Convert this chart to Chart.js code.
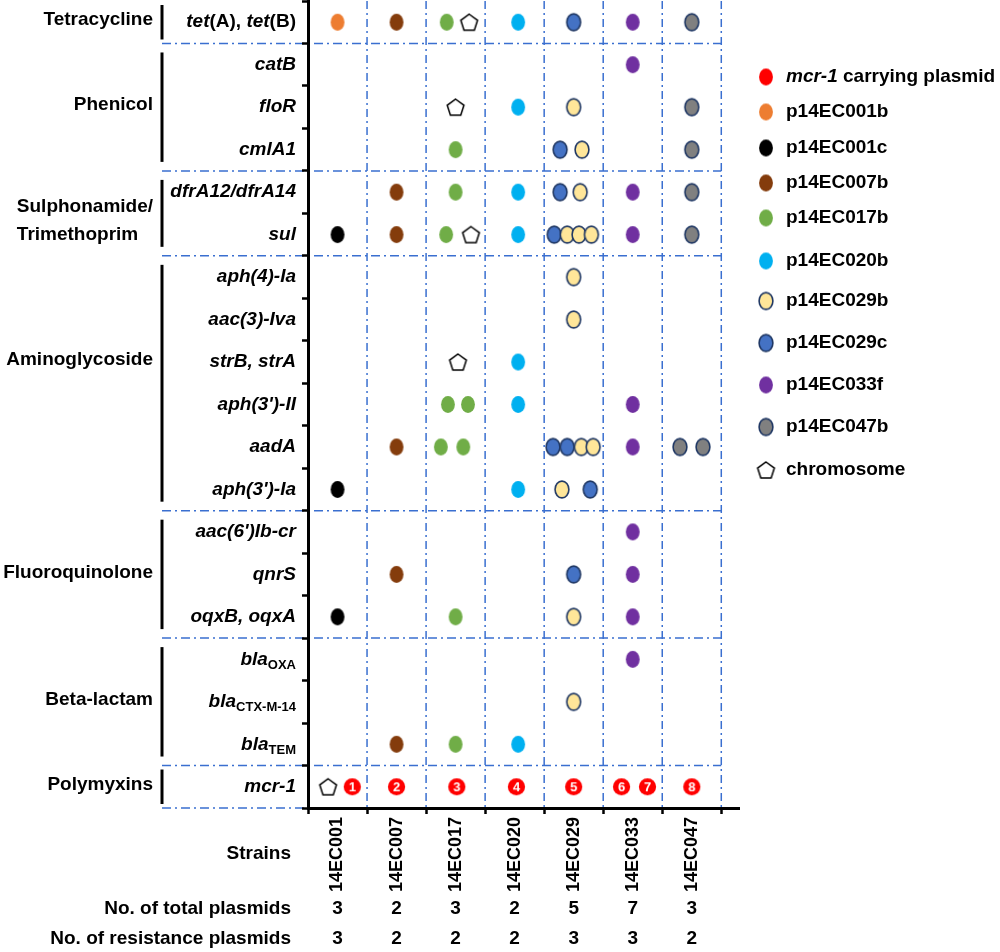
<!DOCTYPE html>
<html>
<head>
<meta charset="utf-8">
<title>Resistance genes per plasmid</title>
<script src="https://cdn.jsdelivr.net/npm/chart.js@4.4.0/dist/chart.umd.min.js"></script>
<style>
  html, body { margin: 0; padding: 0; background: #fff; }
</style>
</head>
<body>
<canvas id="myChart" width="1000" height="952"></canvas>
<script>
// strains (columns) and genes (rows)
const strains = ["14EC001", "14EC007", "14EC017", "14EC020", "14EC029", "14EC033", "14EC047"];
const genes = [
  "tet(A), tet(B)", "catB", "floR", "cmlA1", "dfrA12/dfrA14", "sul",
  "aph(4)-Ia", "aac(3)-Iva", "strB, strA", "aph(3')-II", "aadA", "aph(3')-Ia",
  "aac(6')Ib-cr", "qnrS", "oqxB, oqxA", "blaOXA", "blaCTX-M-14", "blaTEM", "mcr-1",
];
const drugClasses = ["Tetracycline", "Phenicol", "Sulphonamide/\nTrimethoprim", "Aminoglycoside", "Fluoroquinolone", "Beta-lactam", "Polymyxins"];
const genesPerClass = [1, 3, 2, 6, 3, 3, 1];
const totalPlasmids = [3, 2, 3, 2, 5, 7, 3];
const resistancePlasmids = [3, 2, 2, 2, 3, 3, 2];

// hits: [strain, gene, shift inside the cell (in columns)]
const mcr1Plasmid = [
  ["14EC001", "mcr-1", 0.25], ["14EC007", "mcr-1", 0], ["14EC017", "mcr-1", 0.02], ["14EC020", "mcr-1", 0.03],
  ["14EC029", "mcr-1", 0], ["14EC033", "mcr-1", -0.19], ["14EC033", "mcr-1", 0.25], ["14EC047", "mcr-1", 0],
];
const mcr1Numbers = ["1", "2", "3", "4", "5", "6", "7", "8"];
const p14EC001b = [["14EC001", "tet(A), tet(B)", 0]];
const p14EC001c = [["14EC001", "sul", 0], ["14EC001", "aph(3')-Ia", 0], ["14EC001", "oqxB, oqxA", 0]];
const p14EC007b = [
  ["14EC007", "tet(A), tet(B)", 0], ["14EC007", "dfrA12/dfrA14", 0], ["14EC007", "sul", 0],
  ["14EC007", "aadA", 0], ["14EC007", "qnrS", 0], ["14EC007", "blaTEM", 0],
];
const p14EC017b = [
  ["14EC017", "tet(A), tet(B)", -0.15], ["14EC017", "cmlA1", 0], ["14EC017", "dfrA12/dfrA14", 0],
  ["14EC017", "sul", -0.16], ["14EC017", "aph(3')-II", -0.13], ["14EC017", "aph(3')-II", 0.21],
  ["14EC017", "aadA", -0.25], ["14EC017", "aadA", 0.13], ["14EC017", "oqxB, oqxA", 0], ["14EC017", "blaTEM", 0],
];
const p14EC020b = [
  ["14EC020", "tet(A), tet(B)", 0.06], ["14EC020", "floR", 0.06], ["14EC020", "dfrA12/dfrA14", 0.06],
  ["14EC020", "sul", 0.06], ["14EC020", "strB, strA", 0.06], ["14EC020", "aph(3')-II", 0.06],
  ["14EC020", "aph(3')-Ia", 0.06], ["14EC020", "blaTEM", 0.06],
];
const p14EC029b = [
  ["14EC029", "floR", 0], ["14EC029", "cmlA1", 0.14], ["14EC029", "dfrA12/dfrA14", 0.11],
  ["14EC029", "sul", -0.11], ["14EC029", "sul", 0.09], ["14EC029", "sul", 0.3],
  ["14EC029", "aph(4)-Ia", 0], ["14EC029", "aac(3)-Iva", 0], ["14EC029", "aadA", 0.13], ["14EC029", "aadA", 0.33],
  ["14EC029", "aph(3')-Ia", -0.2], ["14EC029", "oqxB, oqxA", 0], ["14EC029", "blaCTX-M-14", 0],
];
const p14EC029c = [
  ["14EC029", "tet(A), tet(B)", 0], ["14EC029", "cmlA1", -0.23], ["14EC029", "dfrA12/dfrA14", -0.23],
  ["14EC029", "sul", -0.33], ["14EC029", "aadA", -0.35], ["14EC029", "aadA", -0.11],
  ["14EC029", "aph(3')-Ia", 0.28], ["14EC029", "qnrS", 0],
];
const p14EC033f = [
  ["14EC033", "tet(A), tet(B)", 0], ["14EC033", "catB", 0], ["14EC033", "dfrA12/dfrA14", 0], ["14EC033", "sul", 0],
  ["14EC033", "aph(3')-II", 0], ["14EC033", "aadA", 0], ["14EC033", "aac(6')Ib-cr", 0], ["14EC033", "qnrS", 0],
  ["14EC033", "oqxB, oqxA", 0], ["14EC033", "blaOXA", 0],
];
const p14EC047b = [
  ["14EC047", "tet(A), tet(B)", 0], ["14EC047", "floR", 0], ["14EC047", "cmlA1", 0], ["14EC047", "dfrA12/dfrA14", 0],
  ["14EC047", "sul", 0], ["14EC047", "aadA", -0.2], ["14EC047", "aadA", 0.19],
];
const chromosome = [
  ["14EC017", "tet(A), tet(B)", 0.23], ["14EC017", "floR", 0], ["14EC017", "sul", 0.26],
  ["14EC017", "strB, strA", 0.04], ["14EC001", "mcr-1", -0.16],
];

const plasmidNames = ["mcr-1 carrying plasmid", "p14EC001b", "p14EC001c", "p14EC007b", "p14EC017b", "p14EC020b", "p14EC029b", "p14EC029c", "p14EC033f", "p14EC047b", "chromosome"];
const plasmidHits = [mcr1Plasmid, p14EC001b, p14EC001c, p14EC007b, p14EC017b, p14EC020b, p14EC029b, p14EC029c, p14EC033f, p14EC047b, chromosome];

// marker look [fill, outline]
const markerColors = [
  ["#ff0000", null], ["#ed7d31", null], ["#000000", null], ["#843c0c", null], ["#70ad47", null],
  ["#00b0f0", null], ["#ffe699", "#203864"], ["#4472c4", "#203864"], ["#7030a0", null], ["#808080", "#203864"],
];

const FONT = '"Liberation Sans", Arial, sans-serif';
const GRID_BLUE = "#3a6fd0";

function ellipseImage(fill, stroke, rx, ry, text) {
  const c = document.createElement("canvas");
  c.width = Math.round(rx * 2 + 4);
  c.height = Math.round(ry * 2 + 4);
  const g = c.getContext("2d");
  g.beginPath();
  g.ellipse(c.width / 2, c.height / 2, rx, ry, 0, 0, Math.PI * 2);
  g.fillStyle = fill;
  g.fill();
  if (stroke) {
    g.lineWidth = 1.6;
    g.strokeStyle = stroke;
    g.stroke();
  }
  if (text) {
    g.fillStyle = "#fff";
    g.font = "bold 13px " + FONT;
    g.textAlign = "center";
    g.textBaseline = "middle";
    g.fillText(text, c.width / 2, c.height / 2 + 1);
  }
  return c;
}

function pentagonImage(r) {
  const c = document.createElement("canvas");
  c.width = Math.round(2 * r * Math.sin((2 * Math.PI) / 5) + 4);
  c.height = Math.round(r * (1 + Math.cos(Math.PI / 5)) + 4);
  const g = c.getContext("2d");
  const cx = c.width / 2;
  const cy = 2 + r;
  g.beginPath();
  for (let k = 0; k < 5; k++) {
    const a = -Math.PI / 2 + (k * 2 * Math.PI) / 5;
    g.lineTo(cx + r * Math.cos(a), cy + r * Math.sin(a));
  }
  g.closePath();
  g.fillStyle = "#fff";
  g.fill();
  g.lineWidth = 1.5;
  g.strokeStyle = "#000";
  g.stroke();
  return c;
}

const markerImgs = markerColors.map(([f, s]) => ellipseImage(f, s, 6.9, 8.4));
markerImgs.push(pentagonImage(8.8));
const numberedImgs = mcr1Numbers.map((n) => ellipseImage("#ff0000", null, 8.6, 8.4, n));

const datasets = plasmidNames.map((name, k) => ({
  label: name,
  data: plasmidHits[k].map(([s, gname, shift]) => ({
    x: strains.indexOf(s) + 0.5 + shift,
    y: genes.indexOf(gname) + 0.5,
  })),
  pointStyle: k === 0 ? (ctx) => numberedImgs[ctx.dataIndex] : markerImgs[k],
  pointRadius: 8,
  showLine: false,
}));

// --- text helpers
function richParts(name) {
  if (name.startsWith("bla")) return [{ t: "bla", it: true }, { t: name.slice(3), sub: true }];
  if (name.startsWith("tet(")) return name.split(/(tet)/).filter(Boolean).map((t) => ({ t, it: t === "tet" }));
  if (name.startsWith("mcr-1 ")) return [{ t: "mcr-1", it: true }, { t: name.slice(5) }];
  return [{ t: name, it: true }];
}

function drawRich(g, parts, x, y, size, alignRight) {
  const fonts = parts.map((p) =>
    p.sub ? `bold ${Math.round(size * 0.68)}px ${FONT}` : `${p.it ? "italic " : ""}bold ${size}px ${FONT}`
  );
  const widths = parts.map((p, k) => {
    g.font = fonts[k];
    return g.measureText(p.t).width;
  });
  let cx = alignRight ? x - widths.reduce((a, b) => a + b, 0) : x;
  g.textAlign = "left";
  g.textBaseline = "middle";
  parts.forEach((p, k) => {
    g.font = fonts[k];
    g.fillText(p.t, cx, p.sub ? y + size * 0.32 : y);
    cx += widths[k];
  });
}

const gridPlugin = {
  id: "dashGrid",
  beforeDraw(chart) {
    const g = chart.ctx;
    const xs = chart.scales.x;
    const ys = chart.scales.y;
    const area = chart.chartArea;
    g.save();
    g.strokeStyle = GRID_BLUE;
    g.lineWidth = 1.5;
    g.setLineDash([9, 4, 2, 4]);
    // horizontal lines between drug classes
    let row = 0;
    genesPerClass.forEach((n) => {
      row += n;
      const y = ys.getPixelForValue(row);
      g.beginPath();
      g.moveTo(162, y);
      g.lineTo(xs.getPixelForValue(strains.length), y);
      g.stroke();
    });
    // vertical lines between strains
    g.setLineDash([8, 4, 2, 4]);
    for (let i = 1; i <= strains.length; i++) {
      const x = xs.getPixelForValue(i);
      g.beginPath();
      g.moveTo(x, area.top);
      g.lineTo(x, area.bottom);
      g.stroke();
    }
    g.restore();
  },
};

const labelPlugin = {
  id: "sideLabels",
  afterDraw(chart) {
    const g = chart.ctx;
    const xs = chart.scales.x;
    const ys = chart.scales.y;
    g.save();
    g.fillStyle = "#000";

    // gene names
    genes.forEach((name, i) => {
      drawRich(g, richParts(name), 296, ys.getPixelForValue(i + 0.5), 19, true);
    });

    // drug classes with their brackets
    let start = 0;
    drugClasses.forEach((label, k) => {
      const n = genesPerClass[k];
      const inset = n > 1 ? 9 : 4;
      g.strokeStyle = "#000";
      g.lineWidth = 3;
      g.setLineDash([]);
      g.beginPath();
      g.moveTo(162, ys.getPixelForValue(start) + inset);
      g.lineTo(162, ys.getPixelForValue(start + n) - inset);
      g.stroke();

      const lines = label.split("\n");
      g.font = "bold 19px " + FONT;
      g.textBaseline = "middle";
      if (lines.length > 1) {
        const w = Math.max(...lines.map((l) => g.measureText(l).width));
        const yc = ys.getPixelForValue(start + n / 2) + 7;
        g.textAlign = "left";
        lines.forEach((l, j) => g.fillText(l, 153 - w, yc + (j - (lines.length - 1) / 2) * 28));
      } else {
        g.textAlign = "right";
        g.fillText(label, 153, ys.getPixelForValue(start + Math.floor((n - 1) / 2) + 0.5) - 2);
      }
      start += n;
    });

    // bottom table
    g.font = "bold 19px " + FONT;
    g.textAlign = "right";
    g.textBaseline = "middle";
    g.fillText("Strains", 291, 854);
    g.fillText("No. of total plasmids", 291, 909);
    g.fillText("No. of resistance plasmids", 291, 939);
    g.textAlign = "center";
    strains.forEach((s, i) => {
      const x = xs.getPixelForValue(i + 0.5);
      g.fillText(String(totalPlasmids[i]), x, 909);
      g.fillText(String(resistancePlasmids[i]), x, 939);
    });

    // legend
    const legendY = [77, 112, 148, 183, 218, 261, 301, 343, 385, 427, 470];
    plasmidNames.forEach((name, k) => {
      const img = markerImgs[k];
      g.drawImage(img, 766 - img.width / 2, legendY[k] - img.height / 2);
      drawRich(g, richParts(name).map((p) => (name.startsWith("mcr") ? p : { t: p.t })), 786, legendY[k], 19, false);
    });
    g.restore();
  },
};

const ctx = document.getElementById("myChart");
new Chart(ctx, {
  type: "scatter",
  data: { datasets },
  plugins: [gridPlugin, labelPlugin],
  options: {
    responsive: false,
    animation: false,
    events: [],
    layout: { autoPadding: false, padding: { left: 296, right: 261, top: 1, bottom: 0 } },
    plugins: { legend: { display: false }, tooltip: { enabled: false } },
    scales: {
      x: {
        type: "linear",
        min: 0,
        max: 7.3,
        afterFit: (s) => { s.height = 144; },
        border: { color: "#000", width: 3 },
        grid: {
          drawOnChartArea: false,
          tickLength: 6,
          tickWidth: 2.5,
          tickColor: (c) => (c.tick && Number.isInteger(c.tick.value) ? "#000" : "rgba(0,0,0,0)"),
        },
        ticks: {
          stepSize: 0.5,
          includeBounds: false,
          autoSkip: false,
          minRotation: 90,
          maxRotation: 90,
          padding: 3,
          color: "#000",
          font: { family: FONT, size: 18, weight: "bold" },
          callback: (v) => (Math.abs((v % 1) - 0.5) < 1e-6 ? strains[Math.floor(v)] : ""),
        },
      },
      y: {
        type: "linear",
        min: 0,
        max: genes.length,
        reverse: true,
        afterFit: (s) => { s.width = 12; },
        border: { color: "#000", width: 3 },
        grid: { drawOnChartArea: false, tickLength: 6, tickWidth: 2.5, tickColor: "#000" },
        ticks: { stepSize: 1, display: false },
      },
    },
  },
});
</script>
</body>
</html>
